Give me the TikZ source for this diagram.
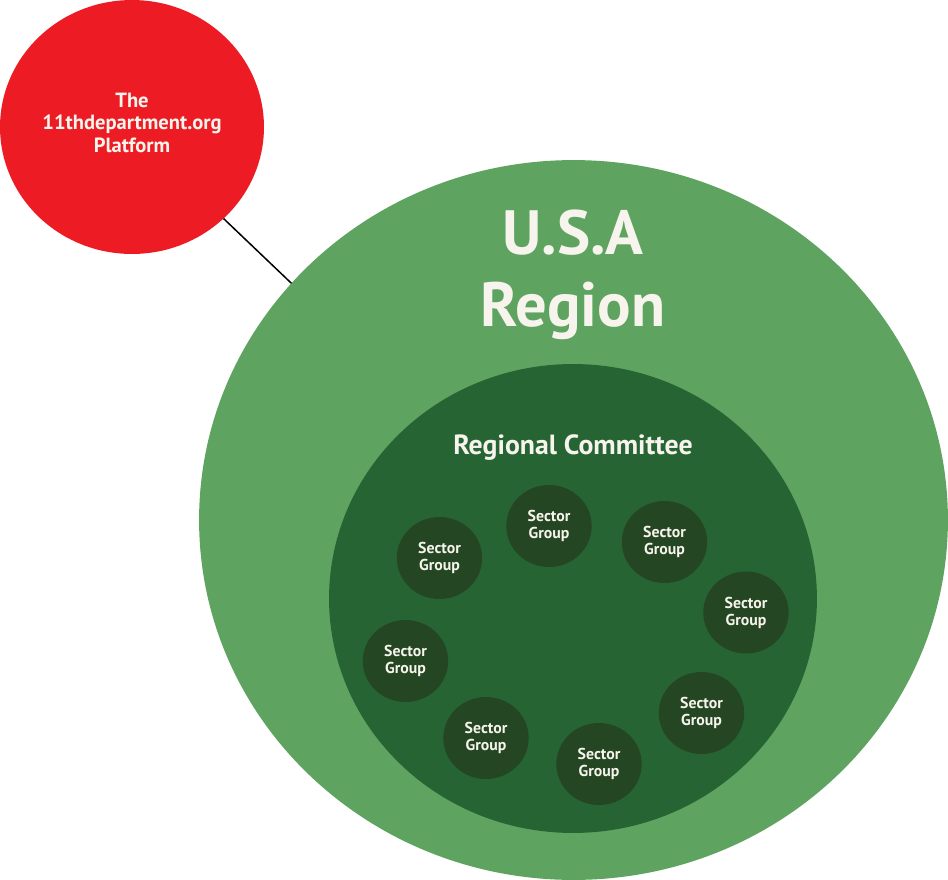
\documentclass[tikz,border=0pt]{standalone}
\usepackage{fontspec}
\setmainfont{PT Sans}
\usetikzlibrary{shapes.geometric}

\definecolor{platformred}{RGB}{237,28,36}
\definecolor{regiongreen}{RGB}{94,163,96}
\definecolor{committeegreen}{RGB}{38,101,51}
\definecolor{sectorgreen}{RGB}{37,70,34}
\definecolor{labelwhite}{RGB}{246,244,236}

\begin{document}
\begin{tikzpicture}[x=0.02cm, y=-0.02cm,
        blob/.style={ellipse, inner sep=0pt, outer sep=0pt, text=labelwhite, align=center},
        sector/.style={blob, fill=sectorgreen, minimum width=1.708cm, minimum height=1.64cm,
            font=\bfseries\fontsize{9}{9.6}\selectfont}]
            \useasboundingbox (0,0) rectangle (948,880);

            \node (platform) at (132,127) [blob, fill=platformred, minimum width=5.28cm, minimum height=5.08cm,
                text depth=5pt, font=\bfseries\fontsize{11.7}{12.7}\selectfont] {The\\11thdepartment.org\\Platform};

            \node (region) at (573.5,520) [blob, fill=regiongreen, minimum width=14.98cm, minimum height=14.4cm] {};
            \node (usa) at (573,275) [text=labelwhite, align=center, font=\bfseries\fontsize{35.6}{40.8}\selectfont] {U.S.A\\Region};

            \node (committee) at (573,598.5) [blob, fill=committeegreen, minimum width=9.76cm, minimum height=9.38cm] {};
            \node (committeetitle) at (573,448) [text=labelwhite, font=\bfseries\fontsize{15.8}{18}\selectfont] {Regional Committee};

            \node (s1) at (549,526) [sector] {Sector\\Group};
            \node (s2) at (664.5,542) [sector] {Sector\\Group};
            \node (s3) at (746,612.5) [sector] {Sector\\Group};
            \node (s4) at (701.5,713) [sector] {Sector\\Group};
            \node (s5) at (599,764) [sector] {Sector\\Group};
            \node (s6) at (486,738) [sector] {Sector\\Group};
            \node (s7) at (405.5,661) [sector] {Sector\\Group};
            \node (s8) at (439.5,558) [sector] {Sector\\Group};

            \draw [line width=0.85pt] (platform.-45) -- (region.140);
        \end{tikzpicture}
\end{document}
